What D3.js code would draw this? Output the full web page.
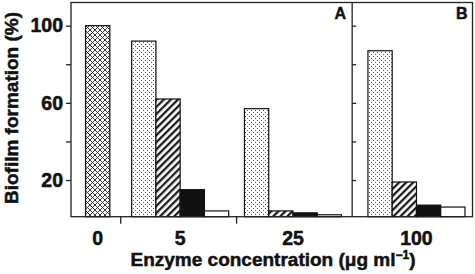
<!DOCTYPE html>
<html>
<head>
<meta charset="utf-8">
<script src="https://cdn.jsdelivr.net/npm/d3@7"></script>
<style>
  body { margin: 0; background: #fff; }
  text { font-family: "Liberation Sans", Arial, sans-serif; font-weight: bold; fill: #111; stroke: #111; stroke-width: 0.5; }
</style>
</head>
<body>
<svg width="475" height="274"></svg>
<script>
// Data
const groups = ["0", "5", "25", "100"];
const series = ["control", "dotted", "hatched", "black", "white"];
const control = [100, null, null, null];
const dotted  = [null, 92, 57, 87];
const hatched = [null, 62, 4, 19];
const black   = [null, 15, 3, 7];
const white   = [null, 4, 2, 6];
const yTicks = [20, 40, 60, 80, 100];
const yLabels = [20, 60, 100];

// Layout (in bar-width units along x)
const groupStart = [0.6, 2.5, 7.15, 12.24];
const panelEdges = [0, 11.59, 16.55];

const svg = d3.select("svg");
const plotLeft = 71, plotRight = 472.5, plotTop = 2.5, plotBottom = 216.7;

const x = d3.scaleLinear().domain([0, panelEdges[2]]).range([plotLeft, plotRight]);
const y = d3.scaleLinear().domain([1, 112]).range([plotBottom, plotTop]);
const barW = x(1) - x(0);

// Patterns
const defs = svg.append("defs");

const cross = defs.append("pattern").attr("id", "p-control")
    .attr("patternUnits", "userSpaceOnUse").attr("width", 5).attr("height", 5);
cross.append("rect").attr("width", 5).attr("height", 5).attr("fill", "#fff");
cross.append("path").attr("d", "M0,0L5,5M5,0L0,5M-1,4L1,6M4,-1L6,1M-1,1L1,-1M4,6L6,4")
    .attr("stroke", "#222").attr("stroke-width", 0.9);

const dots = defs.append("pattern").attr("id", "p-dotted")
    .attr("patternUnits", "userSpaceOnUse").attr("width", 4).attr("height", 4);
dots.append("rect").attr("width", 4).attr("height", 4).attr("fill", "#fff");
dots.append("rect").attr("x", 1).attr("y", 0).attr("width", 1).attr("height", 1).attr("fill", "#555");
dots.append("rect").attr("x", 3).attr("y", 2).attr("width", 1).attr("height", 1).attr("fill", "#555");

const hatch = defs.append("pattern").attr("id", "p-hatched")
    .attr("patternUnits", "userSpaceOnUse").attr("width", 5).attr("height", 5)
    .attr("patternTransform", "rotate(45)");
hatch.append("rect").attr("width", 5).attr("height", 5).attr("fill", "#fff");
hatch.append("line").attr("x1", 1.2).attr("y1", 0).attr("x2", 1.2).attr("y2", 5)
    .attr("stroke", "#111").attr("stroke-width", 2.2);

const fills = { control: "url(#p-control)", dotted: "url(#p-dotted)", hatched: "url(#p-hatched)", black: "#111", white: "#fff" };
const values = { control, dotted, hatched, black, white };

// Build bar records
const bars = [];
groups.forEach((g, gi) => {
  let k = 0;
  series.forEach(s => {
    const v = values[s][gi];
    if (v == null) return;
    bars.push({ group: g, series: s, value: v, pos: groupStart[gi] + k });
    k++;
  });
});

svg.append("g").selectAll("rect")
  .data(bars)
  .enter().append("rect")
  .attr("x", d => x(d.pos))
  .attr("y", d => y(d.value))
  .attr("width", barW)
  .attr("height", d => y(1) - y(d.value))
  .attr("fill", d => fills[d.series])
  .attr("stroke", "#111")
  .attr("stroke-width", 1.2);

// Frame
const frame = svg.append("g").attr("fill", "none").attr("stroke", "#222").attr("stroke-width", 1.3);
frame.append("rect").attr("x", plotLeft).attr("y", plotTop).attr("width", plotRight - plotLeft).attr("height", plotBottom - plotTop);
frame.append("line").attr("x1", x(panelEdges[1])).attr("x2", x(panelEdges[1])).attr("y1", plotTop).attr("y2", plotBottom);

// Left y axis
const yAxis = svg.append("g")
  .attr("transform", `translate(${plotLeft},0)`)
  .call(d3.axisLeft(y).tickValues(yTicks).tickSize(5).tickPadding(3)
    .tickFormat(d => yLabels.includes(d) ? d : ""));
yAxis.select(".domain").remove();
yAxis.selectAll("line").attr("stroke", "#222").attr("stroke-width", 1.3);
yAxis.selectAll("text").style("font-size", "19.5px").attr("fill", "#111")
  .style("font-family", null);

// Inner ticks for panel B
const yAxisB = svg.append("g")
  .attr("transform", `translate(${x(panelEdges[1])},0)`)
  .call(d3.axisRight(y).tickValues(yTicks).tickSize(4).tickFormat(""));
yAxisB.select(".domain").remove();
yAxisB.selectAll("line").attr("stroke", "#222").attr("stroke-width", 1.3);

// Bottom ticks between groups
const sepTicks = [];
for (let i = 0; i < 2; i++) {
  const endPrev = bars.filter(b => b.group === groups[i]).reduce((m, b) => Math.max(m, b.pos + 1), 0);
  sepTicks.push((endPrev + groupStart[i + 1]) / 2);
}
svg.append("g").selectAll("line")
  .data(sepTicks)
  .enter().append("line")
  .attr("x1", d => x(d)).attr("x2", d => x(d))
  .attr("y1", plotBottom).attr("y2", plotBottom + 7)
  .attr("stroke", "#222").attr("stroke-width", 1.3);

// Group labels
svg.append("g").selectAll("text")
  .data(groups)
  .enter().append("text")
  .attr("x", g => {
    const gb = bars.filter(b => b.group === g);
    return (x(gb[0].pos) + x(gb[gb.length - 1].pos + 1)) / 2;
  })
  .attr("y", 245)
  .attr("text-anchor", "middle")
  .style("font-size", "19.5px")
  .text(d => d);

// Panel letters
svg.append("text").attr("x", x(panelEdges[1]) - 6).attr("y", 18.5)
  .attr("text-anchor", "end").style("font-size", "16px").text("A");
svg.append("text").attr("x", plotRight - 5).attr("y", 18.5)
  .attr("text-anchor", "end").style("font-size", "16px").text("B");

// Axis titles
const xt = svg.append("text").attr("x", 273).attr("y", 266)
  .attr("text-anchor", "middle").style("font-size", "19px");
xt.append("tspan").text("Enzyme concentration (μg ml");
xt.append("tspan").attr("dy", -7).style("font-size", "12px").text("−1");
xt.append("tspan").attr("dy", 7).text(")");

svg.append("text")
  .attr("transform", "translate(17.5,108) rotate(-90)")
  .attr("text-anchor", "middle")
  .style("font-size", "19px")
  .text("Biofilm formation (%)");
</script>
</body>
</html>
